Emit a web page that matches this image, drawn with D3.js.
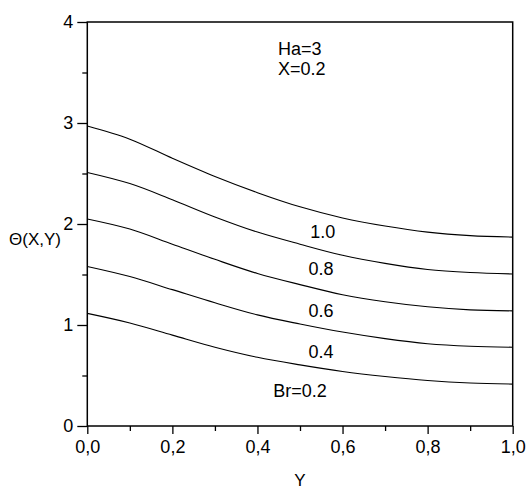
<!DOCTYPE html>
<html><head><meta charset="utf-8">
<script src="https://cdn.jsdelivr.net/npm/d3@7"></script>
<style>body{margin:0;background:#fff}svg{display:block}text{font-family:"Liberation Sans",Arial,sans-serif;fill:#000}</style>
</head><body><svg id="c" width="529" height="490"></svg>
<script>
const yPos = [0, 0.1, 0.2, 0.3, 0.4, 0.5, 0.6, 0.7, 0.8, 0.9, 1.0];
const br02 = [1.115, 1.02, 0.90, 0.78, 0.68, 0.605, 0.54, 0.49, 0.45, 0.425, 0.415];
const br04 = [1.58, 1.48, 1.35, 1.22, 1.10, 1.01, 0.93, 0.865, 0.815, 0.79, 0.78];
const br06 = [2.05, 1.95, 1.80, 1.65, 1.51, 1.40, 1.30, 1.23, 1.18, 1.15, 1.14];
const br08 = [2.51, 2.40, 2.24, 2.07, 1.92, 1.80, 1.69, 1.61, 1.55, 1.52, 1.505];
const br10 = [2.97, 2.84, 2.65, 2.47, 2.31, 2.17, 2.06, 1.98, 1.92, 1.885, 1.87];
const seriesLabels = ["Br=0.2", "0.4", "0.6", "0.8", "1.0"];
const labelAt = [[0.437, 0.29], [0.52, 0.67], [0.52, 1.08], [0.52, 1.495], [0.524, 1.86]];
const xTicks = [0, 0.2, 0.4, 0.6, 0.8, 1.0];
const xMinor = [0.1, 0.3, 0.5, 0.7, 0.9];
const yTicks = [0, 1, 2, 3, 4];
const yMinor = [0.5, 1.5, 2.5, 3.5];

const svg = d3.select("#c");
const L = 87.3, R = 512.7, T = 22, B = 426;
const x = d3.scaleLinear().domain([0, 1]).range([L, R]);
const y = d3.scaleLinear().domain([0, 4]).range([B, T]);
const loc = d3.formatLocale({decimal: ",", thousands: ".", grouping: [3], currency: ["", ""]});
const fx = loc.format(".1f");

// frame
svg.append("rect").attr("x", L).attr("y", T).attr("width", R - L).attr("height", B - T)
  .attr("fill", "none").attr("stroke", "#000").attr("stroke-width", 1.5);

// x axis
const gx = svg.append("g").attr("transform", `translate(0,${B})`)
  .call(d3.axisBottom(x).tickValues(xTicks).tickFormat(fx).tickSize(8).tickPadding(6));
gx.append("g").call(d3.axisBottom(x).tickValues(xMinor).tickFormat("").tickSize(5));
// y axis
const gy = svg.append("g").attr("transform", `translate(${L},0)`)
  .call(d3.axisLeft(y).tickValues(yTicks).tickFormat(d3.format("d")).tickSize(10).tickPadding(4));
gy.append("g").call(d3.axisLeft(y).tickValues(yMinor).tickFormat("").tickSize(5));
svg.selectAll(".domain").remove();
svg.selectAll(".tick line").attr("stroke", "#000").attr("stroke-width", 1.3);
svg.selectAll(".tick text").style("font-size", "18px").style("font-family", "Liberation Sans, Arial, sans-serif");

// curves
const line = d3.line().x(d => x(d[0])).y(d => y(d[1])).curve(d3.curveCatmullRom.alpha(0.5));
[br02, br04, br06, br08, br10].forEach(s => {
  svg.append("path").datum(yPos.map((v, i) => [v, s[i]]))
    .attr("d", line).attr("fill", "none").attr("stroke", "#000").attr("stroke-width", 1.1);
});

// series labels
seriesLabels.forEach((t, i) => {
  svg.append("text").attr("x", x(labelAt[i][0])).attr("y", y(labelAt[i][1]))
    .style("font-size", "18px").text(t);
});

// annotation
svg.append("text").attr("x", 278).attr("y", 55).style("font-size", "18px").text("Ha=3");
svg.append("text").attr("x", 278).attr("y", 75).style("font-size", "18px").text("X=0.2");

// axis titles
svg.append("text").attr("x", 35).attr("y", 245).attr("text-anchor", "middle").style("font-size", "17px").text("Θ(X,Y)");
svg.append("text").attr("x", (L + R) / 2).attr("y", 486).attr("text-anchor", "middle").style("font-size", "17px").text("Y");
</script></body></html>
